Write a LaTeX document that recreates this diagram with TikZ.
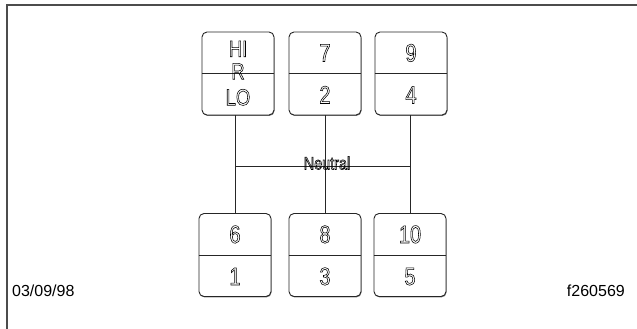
\documentclass[tikz,border=0pt]{standalone}
\usepackage{fontspec}
\setmainfont{Liberation Sans}
\newfontfamily\gatefont[FakeStretch=0.8]{Liberation Sans}
\usetikzlibrary{positioning, shadows}
\tikzstyle{gate} = [rectangle, rounded corners=5pt, minimum width=72pt, minimum height=83pt, draw=black!85, fill=white, line width=0.9pt, inner sep=0pt, drop shadow={shadow xshift=0.5pt, shadow yshift=-0.9pt, fill=black!55, opacity=1}]
\tikzstyle{num} = [font=\gatefont\fontsize{25}{25}\selectfont, text=black, inner sep=0pt, text height=18pt, text depth=0pt]
\tikzstyle{rangetext} = [num, font=\gatefont\fontsize{23}{23}\selectfont, text height=16.5pt]
\tikzstyle{rail} = [line width=0.8pt, draw=black!85]
\tikzstyle{stamp} = [font=\fontsize{16}{16}\selectfont, inner sep=0pt]
\newcommand{\hollow}[1]{\special{pdf:literal direct 1 Tr 0.55 w}#1\special{pdf:literal direct 0 Tr}}

\begin{document}
\begin{tikzpicture}[x=1pt, y=1pt]
    \useasboundingbox (0,0) rectangle (637,329);
    % Frame
    \draw [line width=1.8pt, black!70] (7,0) -- (7,324) -- (637,324);

    % Gates
    \node (hilo) [gate] at (238,255.5) {};
    \node (g72) [gate] at (325,255.5) {};
    \node (g94) [gate] at (411,255.5) {};
    \node (g61) [gate] at (235,74) {};
    \node (g83) [gate] at (325,74) {};
    \node (g105) [gate] at (410,74) {};

    \foreach \g in {hilo,g72,g94,g61,g83,g105}
        \draw [rail] (\g.west) -- (\g.east);

    % Numbers
    \node (thi) [rangetext] at ([yshift=25pt]hilo.center) {\hollow{HI}};
    \node (tr) [rangetext] at ([yshift=2.5pt]hilo.center) {\hollow{R}};
    \node (tlo) [rangetext] at ([yshift=-23.5pt]hilo.center) {\hollow{LO}};
    \node (t7) [num] at ([yshift=21pt]g72.center) {\hollow{7}};
    \node (t2) [num] at ([yshift=-21pt]g72.center) {\hollow{2}};
    \node (t9) [num] at ([yshift=21pt]g94.center) {\hollow{9}};
    \node (t4) [num] at ([yshift=-21pt]g94.center) {\hollow{4}};
    \node (t6) [num] at ([yshift=21pt]g61.center) {\hollow{6}};
    \node (t1) [num] at ([yshift=-21pt]g61.center) {\hollow{1}};
    \node (t8) [num] at ([yshift=21pt]g83.center) {\hollow{8}};
    \node (t3) [num] at ([yshift=-21pt]g83.center) {\hollow{3}};
    \node (t10) [num] at ([yshift=21pt]g105.center) {\hollow{10}};
    \node (t5) [num] at ([yshift=-21pt]g105.center) {\hollow{5}};

    % Shift pattern
    \coordinate (neutral) at (325,163);
    \draw [rail] (g61.north) -- (g61.north |- hilo.south);
    \draw [rail] (g72.south) -- (g83.north);
    \draw [rail] (g105.north) -- (g105.north |- g94.south);
    \draw [rail] (g61.north |- neutral) -- (g105.north |- neutral);
    \node (ntext) [num, font=\gatefont\fontsize{18}{18}\selectfont, text height=13pt] at (327,166) {\hollow{Neutral}};

    % Footer
    \node (date) [stamp, anchor=base west] at (12,32) {03/09/98};
    \node (fig) [stamp, anchor=base east] at (625,32) {f260569};
\end{tikzpicture}
\end{document}
